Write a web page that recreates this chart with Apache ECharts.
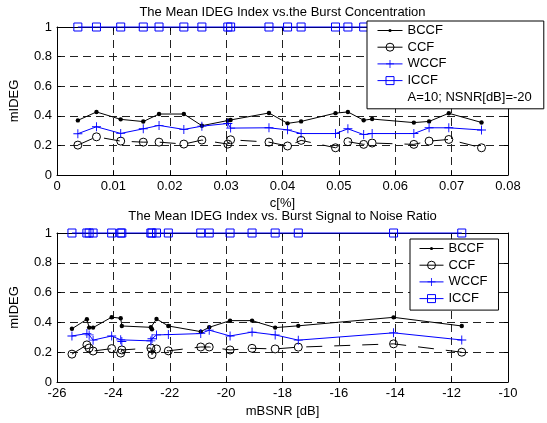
<!DOCTYPE html>
<html><head><meta charset="utf-8">
<script src="https://cdn.jsdelivr.net/npm/echarts@6/dist/echarts.min.js"></script>
<style>html,body{margin:0;padding:0;background:#fff}#c{width:547px;height:423px}</style>
</head><body><div id="c"></div>
<script>
// ---- data: top panel (burst concentration) ----
const topX     = [0.0037, 0.0070, 0.0113, 0.0153, 0.0181, 0.0225, 0.0257, 0.0303, 0.0308, 0.0376, 0.0409, 0.0433, 0.0494, 0.0516, 0.0544, 0.0559, 0.0633, 0.0660, 0.0695, 0.0753];
const topBCCF  = [0.369, 0.426, 0.376, 0.361, 0.412, 0.412, 0.333, 0.368, 0.372, 0.419, 0.349, 0.362, 0.418, 0.426, 0.370, 0.378, 0.354, 0.362, 0.417, 0.355];
const topCCF   = [0.202, 0.258, 0.229, 0.222, 0.222, 0.209, 0.236, 0.209, 0.238, 0.222, 0.196, 0.234, 0.184, 0.225, 0.207, 0.216, 0.207, 0.229, 0.240, 0.184];
const topWCCF  = [0.279, 0.326, 0.281, 0.312, 0.335, 0.308, 0.330, 0.348, 0.317, 0.319, 0.305, 0.280, 0.280, 0.312, 0.273, 0.280, 0.280, 0.319, 0.319, 0.304];
const topICCF  = [1, 1, 1, 1, 1, 1, 1, 1, 1, 1, 1, 1, 1, 1, 1, 1, 1, 1, 1, 1];
// ---- data: bottom panel (burst SNR) ----
const botX     = [-25.47, -24.94, -24.86, -24.72, -24.06, -23.74, -23.70, -22.67, -22.63, -22.47, -22.05, -20.90, -20.60, -19.86, -19.08, -18.26, -17.44, -14.06, -11.64];
const botBCCF  = [0.357, 0.421, 0.365, 0.365, 0.435, 0.428, 0.376, 0.367, 0.354, 0.423, 0.376, 0.338, 0.367, 0.412, 0.412, 0.365, 0.377, 0.434, 0.376];
const botCCF   = [0.187, 0.249, 0.228, 0.208, 0.224, 0.194, 0.215, 0.228, 0.184, 0.222, 0.209, 0.235, 0.235, 0.215, 0.226, 0.222, 0.234, 0.256, 0.200];
const botWCCF  = [0.309, 0.325, 0.316, 0.281, 0.309, 0.283, 0.272, 0.276, 0.290, 0.316, 0.318, 0.325, 0.348, 0.309, 0.335, 0.316, 0.281, 0.330, 0.282];
const botICCF  = [1, 1, 1, 1, 1, 1, 1, 1, 1, 1, 1, 1, 1, 1, 1, 1, 1, 1, 1];
// ---- text ----
const seriesNames = ['BCCF', 'CCF', 'WCCF', 'ICCF'];
const noteText = 'A=10; NSNR[dB]=-20';
const title1 = 'The Mean IDEG Index vs.the Burst Concentration';
const title2 = 'The Mean IDEG Index vs. Burst Signal to Noise Ratio';
const yName = 'mIDEG';
const xName1 = 'c[%]';
const xName2 = 'mBSNR [dB]';
const xRange1 = [0, 0.08, 0.01];
const xRange2 = [-26, -10, 2];
const yRange = [0, 1, 0.2];

const FONT = "'Liberation Sans', Arial, Helvetica, sans-serif";
const BLUE = '#0000ff';
const DOT = 'path://M0,0M10,10M5,3A2,2,0,1,1,5,7A2,2,0,1,1,5,3Z';
const PLUS = 'path://M4.5,0H5.5V10H4.5ZM0,4.5H10V5.5H0Z';

function pairs(xs, ys) { return xs.map((x, i) => [x, ys[i]]); }

function mainX(gi, r) {
  return { type: 'value', gridIndex: gi, min: r[0], max: r[1], interval: r[2], position: 'bottom',
    axisLine: { show: true, onZero: false, lineStyle: { color: '#000', width: 1 } },
    axisTick: { show: true, inside: true, length: 4, lineStyle: { color: '#000' } },
    axisLabel: { show: true, color: '#000', fontSize: 13, fontFamily: FONT, margin: 5 },
    splitLine: { show: true, lineStyle: { color: '#222', type: [8, 5], width: 1 } } };
}
function topX2(gi, r) {
  return { type: 'value', gridIndex: gi, min: r[0], max: r[1], interval: r[2], position: 'top',
    axisLine: { show: true, onZero: false, lineStyle: { color: '#000', width: 1 } },
    axisTick: { show: true, inside: true, length: 4, lineStyle: { color: '#000' } },
    axisLabel: { show: false }, splitLine: { show: false } };
}
function mainY(gi) {
  return { type: 'value', gridIndex: gi, min: yRange[0], max: yRange[1], interval: yRange[2], position: 'left',
    axisLine: { show: true, onZero: false, lineStyle: { color: '#000', width: 1 } },
    axisTick: { show: true, inside: true, length: 4, lineStyle: { color: '#000' } },
    axisLabel: { show: true, color: '#000', fontSize: 13, fontFamily: FONT, margin: 5 },
    splitLine: { show: true, lineStyle: { color: '#222', type: [8, 5], width: 1 } } };
}
function rightY(gi) {
  return { type: 'value', gridIndex: gi, min: yRange[0], max: yRange[1], interval: yRange[2], position: 'right',
    axisLine: { show: true, onZero: false, lineStyle: { color: '#000', width: 1 } },
    axisTick: { show: true, inside: true, length: 4, lineStyle: { color: '#000' } },
    axisLabel: { show: false }, splitLine: { show: false } };
}
function panelSeries(xs, b, c, w, ic, xi, yi) {
  const common = { type: 'line', xAxisIndex: xi, yAxisIndex: yi, clip: false, showAllSymbol: true, animation: false };
  return [
    Object.assign({}, common, { name: 'BCCF', data: pairs(xs, b), symbol: DOT, symbolSize: 11,
      itemStyle: { color: '#000' }, lineStyle: { color: '#000', width: 1 } }),
    Object.assign({}, common, { name: 'CCF', data: pairs(xs, c), symbol: 'circle', symbolSize: 8,
      itemStyle: { color: 'rgba(0,0,0,0)', borderColor: '#000', borderWidth: 1 },
      lineStyle: { color: '#000', width: 1, type: [16, 12] } }),
    Object.assign({}, common, { name: 'WCCF', data: pairs(xs, w), symbol: PLUS, symbolSize: 9,
      itemStyle: { color: BLUE }, lineStyle: { color: BLUE, width: 1 } }),
    Object.assign({}, common, { name: 'ICCF', data: pairs(xs, ic), symbol: 'rect', symbolSize: 8,
      itemStyle: { color: 'rgba(0,0,0,0)', borderColor: BLUE, borderWidth: 1 },
      lineStyle: { color: BLUE, width: 1 } })
  ];
}
function txt(x, y, s, rot) {
  return { type: 'text', x: x, y: y, rotation: rot || 0, z: 100,
    style: { text: s, fill: '#000', fontSize: 13, fontFamily: FONT, align: 'center', verticalAlign: 'middle' } };
}
function legendItems(names) {
  return names.map(n => n === 'CCF' ? { name: n, lineStyle: { type: 'solid', width: 1 } } : { name: n });
}
const legendCommon = { orient: 'vertical', itemHeight: 10, itemGap: 3.7, selectedMode: false,
  backgroundColor: '#fff', borderColor: '#000', borderWidth: 1, borderRadius: 0,
  itemStyle: { borderWidth: 1 }, lineStyle: { width: 1 },
  textStyle: { color: '#000', fontSize: 13, fontFamily: FONT } };

const series = [].concat(
  panelSeries(topX, topBCCF, topCCF, topWCCF, topICCF, 0, 0),
  panelSeries(botX, botBCCF, botCCF, botWCCF, botICCF, 2, 2),
  [{ type: 'line', name: noteText, xAxisIndex: 0, yAxisIndex: 0, data: [], symbol: 'none',
     itemStyle: { color: 'rgba(0,0,0,0)', borderWidth: 0 }, lineStyle: { color: 'rgba(0,0,0,0)', width: 0 } }]
);

const chart = echarts.init(document.getElementById('c'), null, { renderer: 'canvas' });
chart.setOption({
  animation: false,
  backgroundColor: '#fff',
  grid: [
    { left: 57, width: 451, top: 27, height: 148, containLabel: false, outerBoundsMode: 'none' },
    { left: 57, width: 451, top: 233, height: 149, containLabel: false, outerBoundsMode: 'none' }
  ],
  xAxis: [mainX(0, xRange1), topX2(0, xRange1), mainX(1, xRange2), topX2(1, xRange2)],
  yAxis: [mainY(0), rightY(0), mainY(1), rightY(1)],
  legend: [
    Object.assign({}, legendCommon, { left: 367, top: 21, itemWidth: 25, padding: [3, 12, 5, 10],
      data: legendItems(seriesNames.concat([noteText])) }),
    Object.assign({}, legendCommon, { left: 410, top: 239, itemWidth: 24, padding: [3, 11, 5, 9],
      data: legendItems(seriesNames) })
  ],
  graphic: [
    txt(282.5, 12, title1), txt(282.5, 216, title2),
    txt(14, 101, yName, Math.PI / 2), txt(14, 307.5, yName, Math.PI / 2),
    txt(282.5, 203, xName1), txt(282.5, 411.5, xName2)
  ],
  series: series
});
</script></body></html>
